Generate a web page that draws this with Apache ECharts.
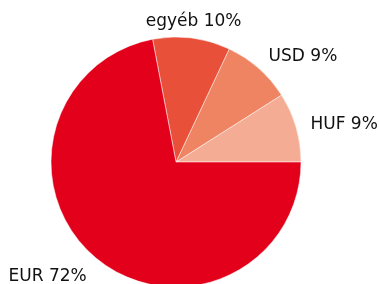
<!DOCTYPE html>
<html>
<head>
    <meta charset="utf-8">
    <script src="https://cdn.jsdelivr.net/npm/echarts@6/dist/echarts.min.js"></script>
    <style>
        body { margin: 0; padding: 0; background: #fff; }
        #chart { width: 379px; height: 284px; }
    </style>
</head>
<body>
    <div id="chart"></div>
    <script>
        // slices in order, counter-clockwise from 3 o'clock
        var names = ['HUF', 'USD', 'egyéb', 'EUR'];
        var shares = [9, 9, 10, 72];
        var colors = ['#f4ac94', '#ef8463', '#e8503a', '#e2001a'];

        var cx = 176, cy = 162, r = 125;
        var dx = 140, dy = 135, lineH = 20;
        var total = shares.reduce(function (a, b) { return a + b; }, 0);

        // mid angle (deg) of each slice
        var mids = [];
        var acc = 0;
        shares.forEach(function (v) {
            mids.push((acc + v / 2) / total * 360);
            acc += v;
        });

        var chart = echarts.init(document.getElementById('chart'));
        chart.setOption({
            animation: false,
            series: [{
                type: 'pie',
                center: [cx, cy],
                radius: r,
                startAngle: 0,
                clockwise: false,
                data: names.map(function (n, i) {
                    return { name: n, value: shares[i], itemStyle: { color: colors[i] } };
                }),
                itemStyle: { borderColor: 'rgba(255,255,255,0.5)', borderWidth: 1 },
                emphasis: { disabled: true },
                label: {
                    show: true,
                    position: 'outside',
                    alignTo: 'none',
                    overflow: 'none',
                    formatter: '{b} {c}%',
                    fontFamily: 'DejaVu Sans',
                    fontSize: 17,
                    lineHeight: lineH,
                    color: '#111'
                },
                labelLine: { show: false },
                labelLayout: function (p) {
                    var a = mids[p.dataIndex] * Math.PI / 180;
                    var c = Math.cos(a), s = Math.sin(a);
                    return {
                        x: cx + dx * c,
                        y: cy + 3 - dy * s - s * lineH / 2,
                        width: 130,
                        align: c > 0.3 ? 'left' : (c < -0.3 ? 'right' : 'center'),
                        verticalAlign: 'middle'
                    };
                }
            }]
        });
    </script>
</body>
</html>
